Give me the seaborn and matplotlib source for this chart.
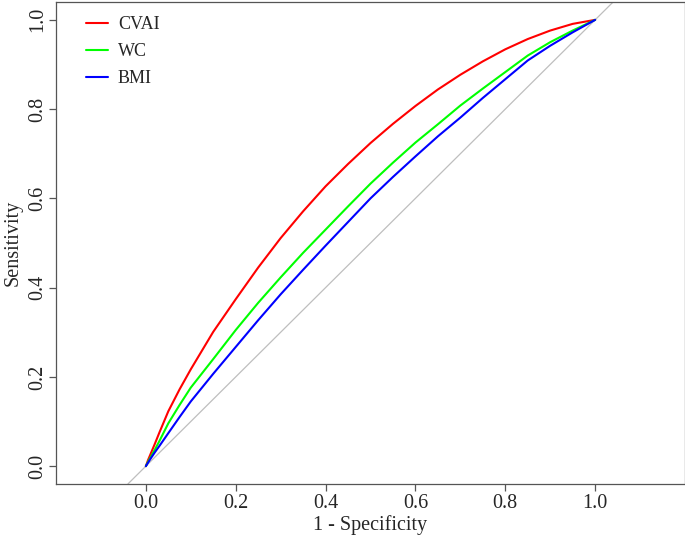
import matplotlib
matplotlib.use("Agg")
import matplotlib.pyplot as plt
import seaborn as sns
import pandas as pd

# smoothed ROC curves (1 - specificity vs sensitivity)
fpr = [0.0, 0.005, 0.01, 0.02, 0.03, 0.05, 0.075, 0.1, 0.15, 0.2, 0.25, 0.3, 0.35,
       0.4, 0.45, 0.5, 0.55, 0.6, 0.65, 0.7, 0.75, 0.8, 0.85, 0.9, 0.95, 1.0]
sens_cvai = [0.0, 0.014, 0.026, 0.050, 0.075, 0.123, 0.172, 0.217, 0.301, 0.374, 0.445, 0.511, 0.571,
             0.627, 0.677, 0.724, 0.767, 0.807, 0.844, 0.877, 0.907, 0.934, 0.957, 0.976, 0.991, 1.0]
sens_wc = [0.0, 0.010, 0.019, 0.037, 0.056, 0.096, 0.137, 0.176, 0.240, 0.305, 0.366, 0.423, 0.478,
           0.530, 0.582, 0.633, 0.680, 0.725, 0.766, 0.808, 0.846, 0.883, 0.920, 0.950, 0.976, 1.0]
sens_bmi = [0.0, 0.008, 0.016, 0.031, 0.045, 0.074, 0.110, 0.145, 0.207, 0.267, 0.327, 0.385, 0.440,
            0.494, 0.547, 0.600, 0.648, 0.694, 0.739, 0.781, 0.825, 0.867, 0.909, 0.942, 0.972, 1.0]

models = ["CVAI", "WC", "BMI"]
colors = {"CVAI": "#FF0000", "WC": "#00FF00", "BMI": "#0000FF"}

df = pd.concat([
    pd.DataFrame({"fpr": fpr, "sens": s, "model": m})
    for m, s in zip(models, [sens_cvai, sens_wc, sens_bmi])
])

sns.set_style("ticks")
plt.rcParams["font.family"] = ["Liberation Serif", "DejaVu Serif"]

fig = plt.figure(figsize=(6.85, 5.38), dpi=100)
ax = fig.add_axes([56 / 685, 54 / 538, 629 / 685, 482 / 538])

# chance line spans the whole panel
ax.axline((0, 0), (1, 1), color="#BEBEBE", lw=0.9, zorder=1)

sns.lineplot(data=df, x="fpr", y="sens", hue="model", palette=colors,
             hue_order=models, sort=False, estimator=None, lw=1.5, ax=ax)

ax.set_xlim(-0.2, 1.2)
ax.set_ylim(-0.04, 1.04)
ticks = [0.0, 0.2, 0.4, 0.6, 0.8, 1.0]
ax.set_xticks(ticks)
ax.set_yticks(ticks)
ax.set_xticklabels([f"{t:.1f}" for t in ticks])
ax.set_yticklabels([f"{t:.1f}" for t in ticks], rotation=90, va="center")
ax.tick_params(axis="both", labelsize=14.5, length=5, width=0.9, color="#555555")
ax.tick_params(axis="x", pad=2.5)
ax.tick_params(axis="y", pad=1)

for sp in ax.spines.values():
    sp.set_visible(True)
    sp.set_color("#555555")
    sp.set_linewidth(0.9)

ax.set_xlabel("1 - Specificity", fontsize=14.5, labelpad=1.5)
ax.set_ylabel("Sensitivity", fontsize=14.5, labelpad=4)

leg = ax.legend(loc="upper left", frameon=False, fontsize=13, handlelength=1.22,
                handletextpad=0.55, labelspacing=0.54, borderaxespad=0.0,
                bbox_to_anchor=(0.036, 0.985))

fig.savefig("out.png", dpi=100)
